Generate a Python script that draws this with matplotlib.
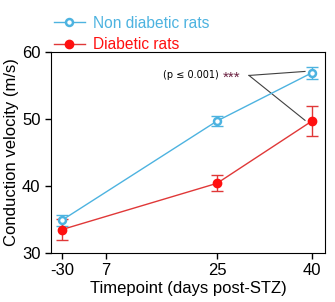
import numpy as np
import matplotlib.pyplot as plt

plt.rcParams['font.family'] = ['Liberation Sans', 'DejaVu Sans']

# Data
tick_labels = ['-30', '7', '25', '40']
timepoints = [-30, 25, 40]
nondiabetic = [34.9, 49.7, 56.9]
nondiabetic_err = [0.8, 0.7, 0.9]
diabetic = [33.5, 40.4, 49.7]
diabetic_err = [1.6, 1.2, 2.3]

# x axis is not linear in the original: place each timepoint on its own slot
slot = {-30: 11, 7: 55, 25: 166, 40: 261}
xs = [slot[t] for t in timepoints]

blue = '#4db3e0'
red = '#ff1010'
red_line = '#e03838'

fig = plt.figure(figsize=(3.35, 3.02), dpi=100)
ax = fig.add_axes([51/335, 1-253/302, 274/335, 201/302])

ax.errorbar(xs, nondiabetic, yerr=nondiabetic_err, fmt='none', ecolor=blue,
            capsize=4, elinewidth=1, capthick=1, zorder=2)
ax.errorbar(xs, diabetic, yerr=diabetic_err, fmt='none', ecolor=red_line,
            capsize=4, elinewidth=1, capthick=1, zorder=2)
l1, = ax.plot(xs, nondiabetic, color=blue, lw=1, marker='o', ms=5,
              mfc='white', mec=blue, mew=1.8, label='Non diabetic rats', zorder=3)
l2, = ax.plot(xs, diabetic, color=red_line, lw=1, marker='o', ms=6,
              mfc=red, mec=red, label='Diabetic rats', zorder=3)

ax.set_xlim(0, 274)
ax.set_ylim(30, 60)
ax.set_xticks([slot[int(t)] for t in tick_labels])
ax.set_xticklabels(tick_labels)
ax.set_yticks([30, 40, 50, 60])
ax.tick_params(direction='out', length=4, labelsize=12, width=1)
ax.set_xlabel('Timepoint (days post-STZ)', fontsize=12, labelpad=2)
ax.set_ylabel('Conduction velocity (m/s)', fontsize=12, labelpad=2)

# significance annotation
ax.text(112, 56.5, '(p \u2264 0.001)', fontsize=7, va='center', ha='left',
        family=['DejaVu Sans'])
ax.text(172, 56.2, '***', fontsize=11, va='center', ha='left', color='#6a2040')
ax.plot([198, 254], [56.5, 57.1], color='#404040', lw=0.8)
ax.plot([198, 254], [56.5, 49.8], color='#404040', lw=0.8)

leg = fig.legend(handles=[l1, l2], loc='upper left', bbox_to_anchor=(46/335, 1-8/302),
                 frameon=False, fontsize=11.2, handlelength=2.0, handletextpad=0.5,
                 labelspacing=0.4, borderpad=0.0)
for txt, c in zip(leg.get_texts(), [blue, red]):
    txt.set_color(c)

fig.savefig('out.png', dpi=100)
